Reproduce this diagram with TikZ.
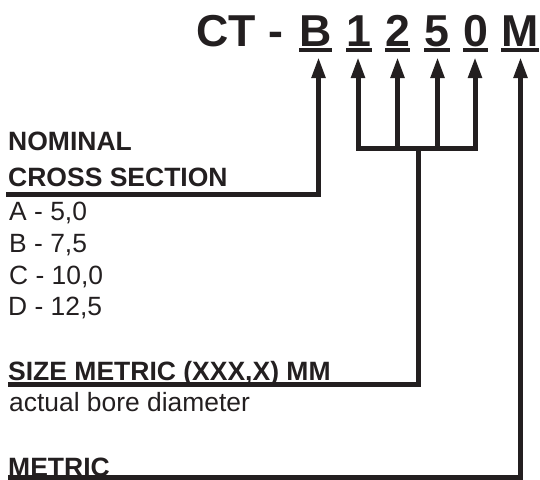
\documentclass[tikz,border=0pt]{standalone}
\usepackage{fontspec}
\setmainfont{Liberation Sans}
\usetikzlibrary{arrows.meta}
\definecolor{ink}{RGB}{35,31,32}
\begin{document}
\begin{tikzpicture}[x=1pt,y=-1pt,
  conn/.style={line width=5pt, draw=ink, line join=miter},
  arr/.style={conn, -{Triangle[length=21pt,width=13pt]}},
  dblarr/.style={conn, {Triangle[length=21pt,width=13pt]}-{Triangle[length=21pt,width=13pt]}},
  title/.style={inner sep=0pt, anchor=base, text=ink, font=\fontsize{44.7}{50}\selectfont\bfseries},
  ul/.style={line width=4pt, draw=ink},
  bt/.style={inner sep=0pt, anchor=base west, text=ink, font=\fontsize{26.5}{30}\selectfont\bfseries},
  rt/.style={inner sep=0pt, anchor=base west, text=ink, font=\fontsize{26.4}{30}\selectfont}]
\useasboundingbox (0,0) rectangle (540,479);

% title
\node[title, anchor=base west] (ct) at (196,46.7) {CT -};
\node[title] (cB) at (315.5,46.7) {B};
\node[title] (c1) at (359,46.7) {1};
\node[title] (c2) at (397.5,46.7) {2};
\node[title] (c5) at (437,46.7) {5};
\node[title] (c0) at (475.5,46.7) {0};
\node[title] (cM) at (520,46.7) {M};
\foreach \n in {cB,c1,c2,c5,c0,cM}
  \draw[ul] ([yshift=-3.6pt]\n.base west) -- ([yshift=-3.6pt]\n.base east);

% texts
\node[bt] (nom) at (8,150.5) {NOMINAL};
\node[bt] (cs) at (8,186.5) {CROSS SECTION};
\node[rt] (ta) at (9,220) {A - 5,0};
\node[rt] (tb) at (9,252) {B - 7,5};
\node[rt] (tc) at (9,284.5) {C - 10,0};
\node[rt] (td) at (8,315.5) {D - 12,5};
\node[bt] (sm) at (8,380) {SIZE METRIC (XXX,X) MM};
\node[rt] (abd) at (9,411.5) {actual bore diameter};
\node[bt] (met) at (8,476) {METRIC};

% connector coordinates
\coordinate (tB) at (318.5,57);
\coordinate (t1) at (358,57);
\coordinate (t2) at (397.5,57);
\coordinate (t5) at (437.5,57);
\coordinate (t0) at (475,57);
\coordinate (tM) at (520.5,57);
\coordinate (lB) at (6,194);
\coordinate (kB) at (318.5,194);
\coordinate (f1) at (358,148);
\coordinate (f2) at (397.5,148);
\coordinate (f5) at (437.5,148);
\coordinate (f0) at (475,148);
\coordinate (fs) at (418.5,148);
\coordinate (ks) at (418.5,384.5);
\coordinate (ls) at (8,384.5);
\coordinate (lM) at (8,477.5);
\coordinate (kM) at (520.5,477.5);

\draw[arr] (lB) -- (kB) -- (tB);
\draw[dblarr] (t1) -- (f1) -- (f0) -- (t0);
\draw[arr] (f2) -- (t2);
\draw[arr] (f5) -- (t5);
\draw[conn] (ls) -- (ks) -- (fs);
\draw[arr] (lM) -- (kM) -- (tM);
\end{tikzpicture}
\end{document}
